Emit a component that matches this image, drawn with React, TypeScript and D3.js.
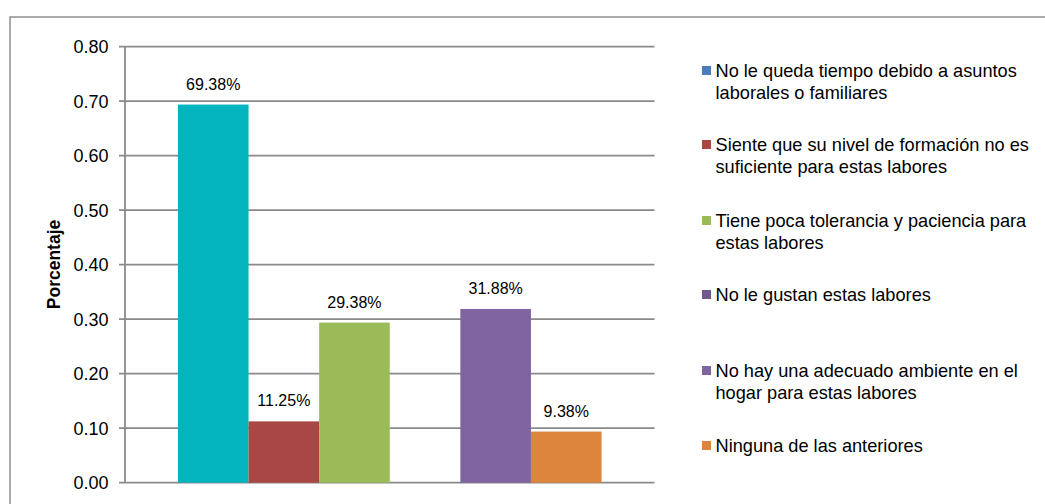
import React from "react";
import * as d3 from "d3";

const seriesNames = [
  "No le queda tiempo debido a asuntos laborales o familiares",
  "Siente que su nivel de formación no es suficiente para estas labores",
  "Tiene poca tolerancia y paciencia para estas labores",
  "No le gustan estas labores",
  "No hay una adecuado ambiente en el hogar para estas labores",
  "Ninguna de las anteriores",
];
const legendLines = [
  ["No le queda tiempo debido a asuntos", "laborales o familiares"],
  ["Siente que su nivel de formación no es", "suficiente para estas labores"],
  ["Tiene poca tolerancia y paciencia para", "estas labores"],
  ["No le gustan estas labores"],
  ["No hay una adecuado ambiente en el", "hogar para estas labores"],
  ["Ninguna de las anteriores"],
];
const values = [0.6938, 0.1125, 0.2938, 0, 0.3188, 0.0938];
const valueLabels = ["69.38%", "11.25%", "29.38%", "", "31.88%", "9.38%"];
const barColors = ["#04B4BE", "#A84745", "#9BBB59", "#71588F", "#8064A2", "#DD843D"];
const legendColors = ["#4A7EBB", "#AA4643", "#9BBB59", "#71588F", "#8064A2", "#DD843D"];
const yTicks = [0, 0.1, 0.2, 0.3, 0.4, 0.5, 0.6, 0.7, 0.8];
const yTitle = "Porcentaje";

export default function App() {
  const W = 1045, H = 504;
  const plotL = 125, plotR = 654.5, plotT = 46.7, plotB = 482.7;
  const y = d3.scaleLinear().domain([0, 0.8]).range([plotB, plotT]);
  const bw = (plotR - plotL) / 7.5;
  const x = d3
    .scaleBand<string>()
    .domain(seriesNames)
    .range([plotL + 0.75 * bw, plotR - 0.75 * bw])
    .paddingInner(0)
    .paddingOuter(0);
  const font = "'Liberation Sans', Arial, sans-serif";
  const grid = "#8A8A8A";
  const legendBaselines = [77, 151, 227, 301, 377, 452];

  return (
    <svg
      width={W}
      height={H}
      style={{ position: "absolute", left: 0, top: 0, background: "#fff" }}
      fontFamily={font}
    >
      <rect x={10} y={17} width={1100} height={600} fill="#fff" stroke="#8E8E8E" strokeWidth={1.5} />
      {yTicks.map((t) => (
        <g key={t}>
          <line x1={119} x2={plotR} y1={y(t)} y2={y(t)} stroke={grid} strokeWidth={1.8} />
          <text x={108.5} y={y(t) + 6.5} textAnchor="end" fontSize={18} fill="#000">
            {t.toFixed(2)}
          </text>
        </g>
      ))}
      <line x1={plotL} x2={plotL} y1={plotT} y2={plotB} stroke={grid} strokeWidth={1.8} />
      {seriesNames.map((s, i) => (
        <rect
          key={s}
          x={x(s)!}
          y={y(values[i])}
          width={x.bandwidth()}
          height={plotB - y(values[i])}
          fill={barColors[i]}
        />
      ))}
      {seriesNames.map((s, i) =>
        valueLabels[i] ? (
          <text
            key={s}
            x={x(s)! + x.bandwidth() / 2}
            y={y(values[i]) - 15}
            textAnchor="middle"
            fontSize={16}
            fill="#000"
          >
            {valueLabels[i]}
          </text>
        ) : null
      )}
      <text
        transform={`translate(60,264.5) rotate(-90)`}
        textAnchor="middle"
        fontSize={17.5}
        fontWeight="bold"
        fill="#000"
      >
        {yTitle}
      </text>
      {legendLines.map((lines, i) => (
        <g key={i}>
          <rect x={702} y={legendBaselines[i] - 11} width={9} height={9} fill={legendColors[i]} />
          {lines.map((ln, j) => (
            <text key={j} x={715.5} y={legendBaselines[i] + j * 21.7} fontSize={18.2} fill="#000">
              {ln}
            </text>
          ))}
        </g>
      ))}
    </svg>
  );
}
